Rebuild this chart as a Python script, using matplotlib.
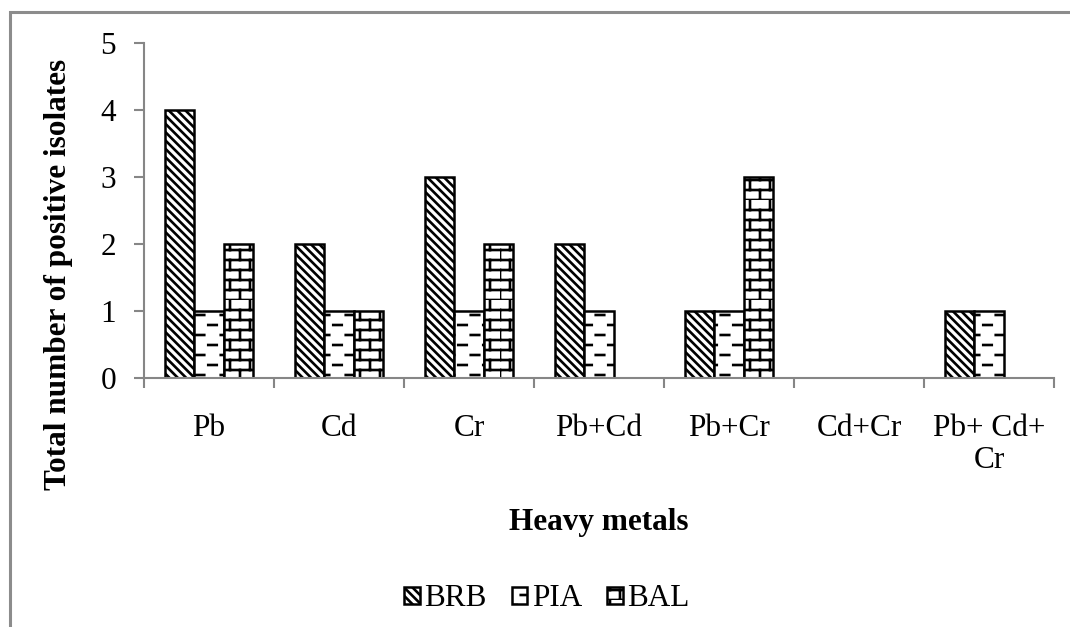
import warnings
import numpy as np
import matplotlib
matplotlib.use("Agg")
import matplotlib.pyplot as plt
import matplotlib.hatch as mhatch
from matplotlib.path import Path
from matplotlib.patches import Rectangle

warnings.filterwarnings("ignore")

# ─── Data ───
metals = ["Pb", "Cd", "Cr", "Pb+Cd", "Pb+Cr", "Cd+Cr", "Pb+ Cd+\nCr"]
brb = [4, 2, 3, 2, 1, 0, 1]
pia = [1, 1, 1, 1, 1, 0, 1]
bal = [2, 1, 2, 0, 3, 0, 0]
series_names = ["BRB", "PIA", "BAL"]
y_ticks = [0, 1, 2, 3, 4, 5]


# ─── Custom hatch patterns (brick + staggered dashes) ───
class BrickHatch(mhatch.HatchPatternBase):
    rows, cols = 10, 5

    def __init__(self, hatch, density):
        on = hatch.count("b") > 0
        self.num_lines = (self.rows + self.rows * self.cols) if on else 0
        self.num_vertices = self.num_lines * 2

    def set_vertices_and_codes(self, vertices, codes):
        segs = []
        for i in range(self.rows):
            y0, y1 = i / self.rows, (i + 1) / self.rows
            segs.append(((0, y0), (1, y0)))
            for j in range(self.cols):
                x = ((j + 0.5 * (i % 2)) / self.cols) % 1.0
                segs.append(((x, y0), (x, y1)))
        for k, (a, b) in enumerate(segs):
            vertices[2 * k] = a
            vertices[2 * k + 1] = b
            codes[2 * k] = Path.MOVETO
            codes[2 * k + 1] = Path.LINETO


class DashHatch(mhatch.HatchPatternBase):
    rows, per_row, dash = 10, 4, 0.085

    def __init__(self, hatch, density):
        on = hatch.count("q") > 0
        self.num_lines = self.rows * (self.per_row + 1) if on else 0
        self.num_vertices = self.num_lines * 2

    def set_vertices_and_codes(self, vertices, codes):
        segs = []
        step = 1.0 / self.per_row
        for i in range(self.rows):
            y = (i + 0.5) / self.rows
            off = 0.5 * step * (i % 2)
            for j in range(self.per_row + 1):
                xc = j * step + off
                x0 = max(xc - self.dash / 2, 0.0)
                x1 = min(xc + self.dash / 2, 1.0)
                if x1 <= x0:
                    x0, x1 = 1.0, 1.0
                segs.append(((x0, y), (x1, y)))
        for k, (a, b) in enumerate(segs):
            vertices[2 * k] = a
            vertices[2 * k + 1] = b
            codes[2 * k] = Path.MOVETO
            codes[2 * k + 1] = Path.LINETO


mhatch._hatch_types.append(BrickHatch)
mhatch._hatch_types.append(DashHatch)

plt.rcParams["font.family"] = ["Liberation Serif", "DejaVu Serif"]
plt.rcParams["hatch.linewidth"] = 1.9
plt.rcParams["hatch.color"] = "black"

FS = 22.5
axis_grey = "#868686"

fig = plt.figure(figsize=(10.7, 6.27), dpi=100)
ax = fig.add_axes([144 / 1070, 1 - 378 / 627, (1054 - 144) / 1070, (378 - 43) / 627])

x = np.arange(len(metals))
w = 0.227
hatches = [chr(92) * 4, "q", "b"]
for k, (vals, name) in enumerate(zip([brb, pia, bal], series_names)):
    ax.bar(x + (k - 1) * w, vals, w, label=name, color="white",
           edgecolor="black", linewidth=1.8, hatch=hatches[k], zorder=2)

ax.set_xlim(-0.5, len(metals) - 0.5)
ax.set_ylim(0, 5)
ax.set_yticks(y_ticks)
ax.set_yticklabels([str(t) for t in y_ticks], fontsize=FS)
ax.set_xticks(x)
ax.set_xticklabels(metals, fontsize=FS, linespacing=1.15)
ax.set_xticks(np.arange(-0.5, len(metals)), minor=True)
ax.tick_params(axis="x", which="major", length=0, pad=26)
ax.tick_params(axis="x", which="minor", length=7, width=1.5, color=axis_grey, direction="out")
ax.tick_params(axis="y", length=7, width=1.5, color=axis_grey, direction="out", pad=13)

for side in ["top", "right"]:
    ax.spines[side].set_visible(False)
for side in ["left", "bottom"]:
    ax.spines[side].set_color(axis_grey)
    ax.spines[side].set_linewidth(1.5)

ax.set_ylabel("Total number of positive isolates", fontsize=FS, fontweight="bold")
ax.yaxis.set_label_coords((73 - 144) / 910, (378 - 274) / 335)
ax.set_xlabel("Heavy metals", fontsize=FS, fontweight="bold")
ax.xaxis.set_label_coords(0.5, -(508 - 378) / 335)

fig.legend(loc="center", bbox_to_anchor=(547 / 1070, 1 - 599 / 627), ncol=3,
           frameon=False, fontsize=FS, handlelength=0.5, handleheight=0.5,
           handletextpad=0.15, columnspacing=0.8, borderaxespad=0)

# outer grey frame (left/top edges visible)
fig.add_artist(Rectangle((10 / 1070, -0.2), 2.0, 1 - 12 / 627 + 0.2,
                         transform=fig.transFigure, fill=False,
                         edgecolor="#8c8c8c", linewidth=2.2))

fig.savefig("out.png", dpi=100)
